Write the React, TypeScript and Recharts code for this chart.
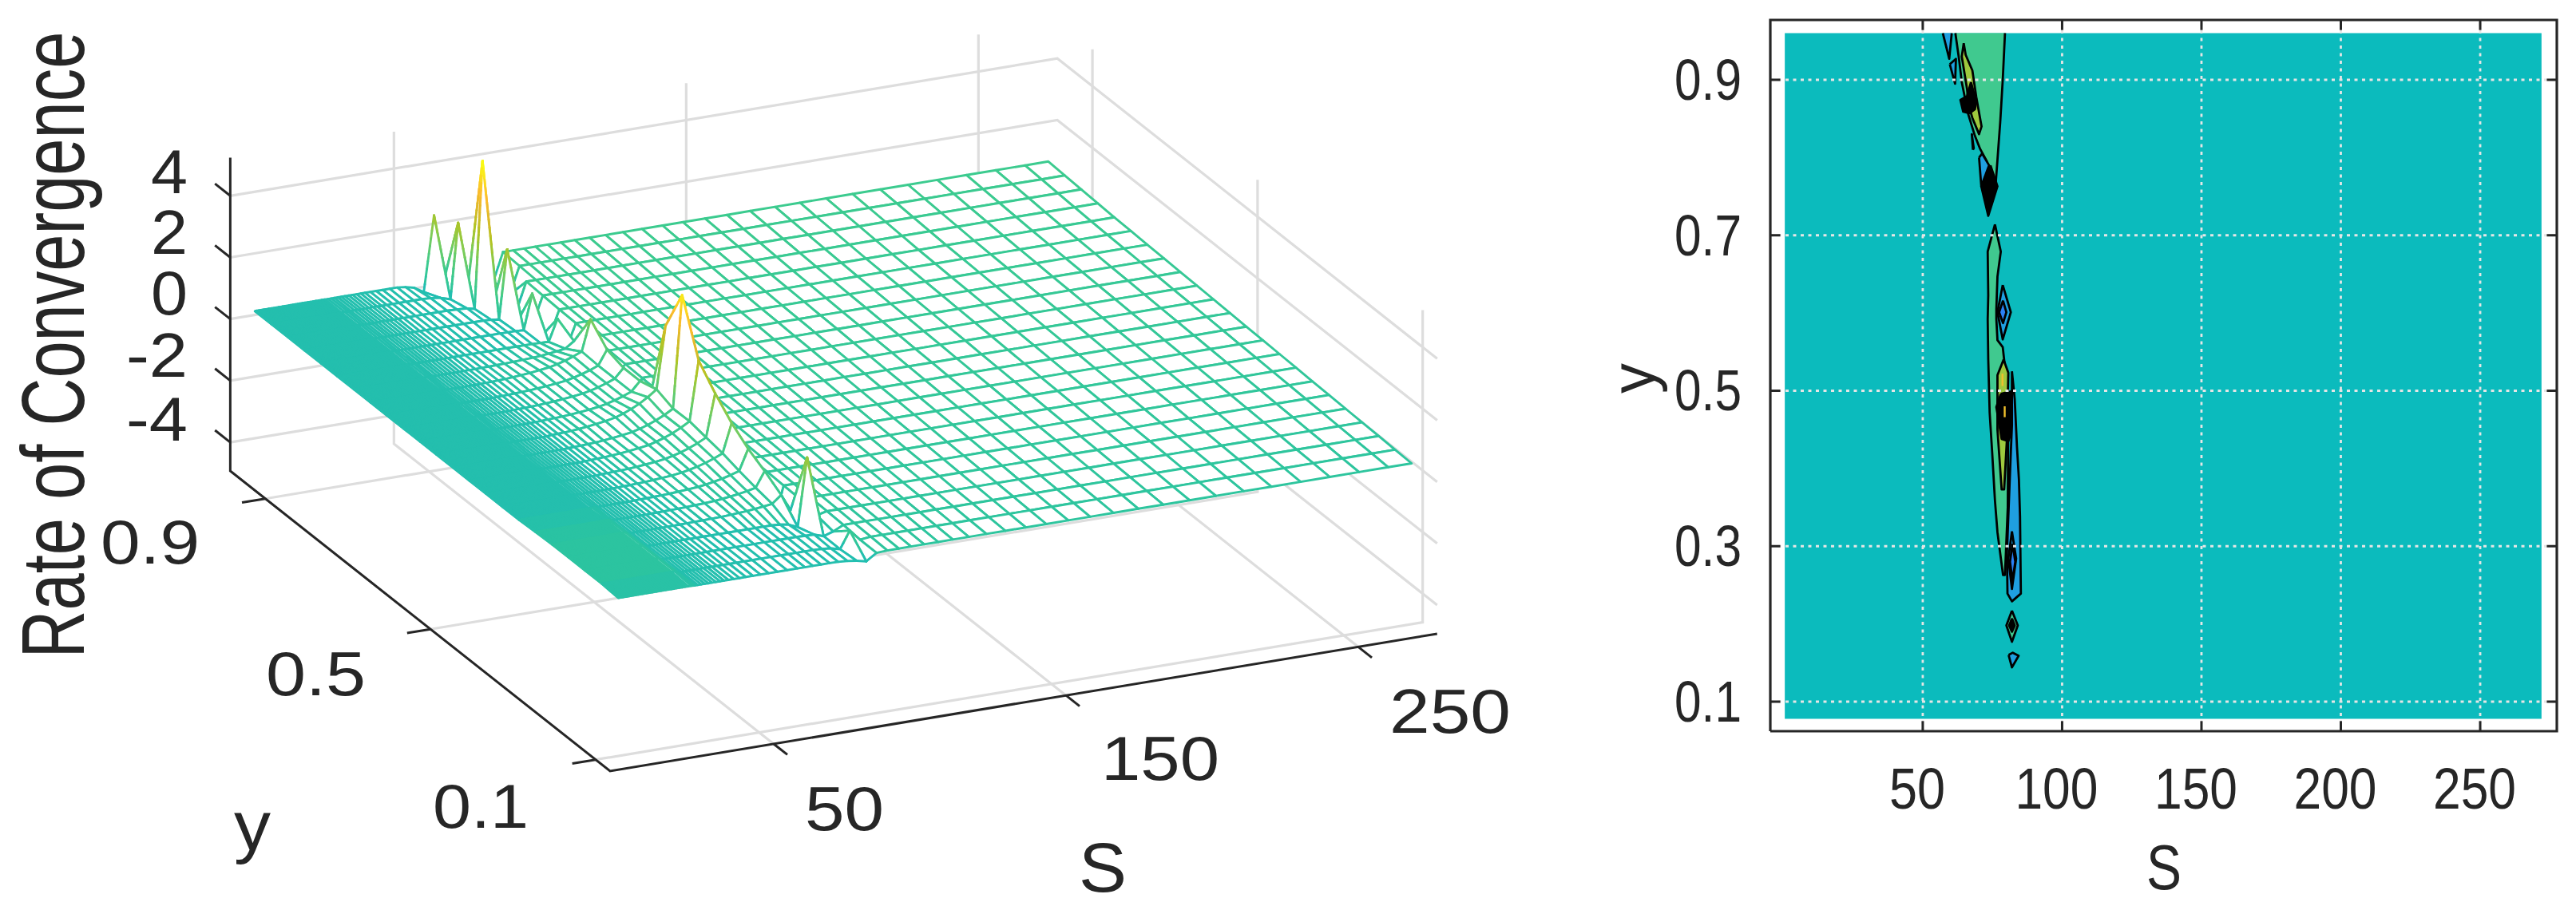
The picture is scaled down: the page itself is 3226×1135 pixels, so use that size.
import { ScatterChart, Scatter, XAxis, YAxis } from "recharts";

const INK = "#262626";
const GREY = "#dddddd";
const FONT = "'Liberation Sans', Arial, sans-serif";

// ---- mesh grid (finer towards S = 0) ----
const sGrid = [
  0.5, 0.7, 0.9, 1.2, 1.5, 1.8, 2.2, 2.6, 3, 3.4, 3.8, 4.3, 4.8, 5.3, 5.8, 6.3, 6.9, 7.5, 8.1, 8.7, 9.3, 10, 10.7, 11.4,
  12.1, 12.8, 13.6, 14.4, 15.2, 16, 16.8, 17.7, 18.6, 19.5, 20.4, 21.4, 22.4, 23.4, 24.4, 25.5, 26.6, 27.7, 28.9, 30.1,
  31.3, 32.6, 33.9, 35.3, 36.7, 38.2, 40, 42, 44.2, 46.6, 49.2, 52, 55, 58.3, 61.8, 64.4,
  67.1, 69.9, 72.8, 75.8, 78.9, 82.1, 85.4, 88.9, 92.6, 96.5, 100.7, 105.2, 110, 115, 120.5, 126.5, 133, 140, 147,
  154.5, 162, 170, 178.5, 187, 196, 205, 214.5, 224, 234, 244, 254, 264, 272,
];
const yGrid = [0.08, 0.12, 0.16, 0.2, 0.24, 0.28, 0.32, 0.36, 0.4, 0.44, 0.48, 0.52, 0.56, 0.6, 0.64, 0.68, 0.72, 0.76, 0.8, 0.84, 0.88, 0.92, 0.96];

// per row, front to back
const ridgeS = [85.4, 85.4, 82.1, 82.1, 78.9, 78.9, 78.9, 78.9, 78.9, 78.9, 78.9, 78.9, 75.8, 75.8, 75.8, 75.8, 75.8, 75.8, 72.8, 69.9, 67.1, 64.4, 61.8];
const ridgeZ = [0.28, 0.85, 0.3, 2.43, 0.84, 1.19, 1.49, 1.9, 2.44, 3.08, 4.78, 3.37, 1.2, 1.2, 1.37, 1.93, 0.8, 1.1, 1.54, 2.6, 5.09, 2.7, 2.56];
const beforeRidgeZ = [0.35, 0.3, 0.4, 0.22, 0.6, 0.7, 0.82, 0.97, 1.06, 1.16, 1.15, 1.35, 0.9, 0.9, 0.9, 0.93, 0.6, 0.4, 0.4, 0.37, 0.33, 0.26, 0.13];
const afterRidgeZ = [0.5, 0.5, 0.4, 0.5, 0.3, -0.5, 0, 0, 0, 0, 0, 0.3, 0.5, -1, 0.5, 0.6, 0.1, 0.1, 0.1, 0.1, 0.1, 0.1, 0.1];
const flatFromS = [92.6, 92.6, 88.9, 88.9, 85.4, 85.4, 85.4, 85.4, 85.4, 85.4, 85.4, 85.4, 82.1, 82.1, 82.1, 82.1, 82.1, 82.1, 82.1, 82.1, 82.1, 85.4, 85.4];
const rightZ = [0.52, 0.54, 0.56, 0.58, 0.6, 0.62, 0.64, 0.66, 0.68, 0.7, 0.72, 0.74, 0.76, 0.78, 0.8, 0.82, 0.84, 0.86, 0.88, 0.91, 0.94, 0.97, 1];
const leftZ = [0.43, 0.47, 0.47, 0.47, 0.47, 0.45, 0.42, 0.42, 0.42, 0.42, 0.42, 0.42, 0.42, 0.42, 0.42, 0.42, 0.42, 0.42, 0.42, 0.42, 0.42, 0.42, 0.42];
const leftPlainZ = 0.42;
const shelfEndS = 26;
const riseWeights = [1, 0.78, 0.6, 0.46, 0.35, 0.26, 0.19, 0.14, 0.1, 0.07, 0.05, 0.035, 0.025, 0.015];
const dipWeights = [1, 0.35, 0.1];

const sTicks3d = [50, 150, 250];
const yTicks3d = [0.1, 0.5, 0.9];
const zTicks3d = [-4, -2, 0, 2, 4];

const sTicks = [50, 100, 150, 200, 250];
const yTicks = [0.1, 0.3, 0.5, 0.7, 0.9];

// ---- filled contour regions, S / y pairs ----
const TEAL = "#0bbbbd";
const GREEN = "#40c98f";
const OLIVE = "#9ec93e";
const BLUE = "#1f9fe0";
const DEEP = "#2b80f5";
const BLACK = "#000000";
const FIELD_TOP = 0.96;

const contourRegions: [string, number[][]][] = [
  [GREEN, [[61.7, 0.96], [79.5, 0.96], [78.7, 0.9], [77.8, 0.846], [76.8, 0.797], [76.1, 0.763], [74.4, 0.774], [73, 0.795], [70.6, 0.811], [68.7, 0.828], [66.3, 0.856], [64, 0.897], [63, 0.927]]],
  [BLUE, [[57.2, 0.96], [60.4, 0.96], [59.5, 0.927]]],
  [BLUE, [[59.7, 0.92], [61.9, 0.927], [61.6, 0.895]]],
  [OLIVE, [[64.7, 0.947], [65.4, 0.932], [67.8, 0.912], [69.2, 0.878], [71.1, 0.84], [70.2, 0.83], [67.8, 0.851], [66.4, 0.868], [65.9, 0.888], [64, 0.93]]],
  [BLACK, [[67.3, 0.897], [69.2, 0.872], [68.7, 0.862], [66.8, 0.857], [64.5, 0.859], [63.5, 0.874], [65.9, 0.879]]],
  [BLUE, [[68.0, 0.81], [68.3, 0.812], [67.6, 0.83]]],
  [BLUE, [[70.2, 0.8], [71.3, 0.805], [73.8, 0.79], [71.0, 0.763]]],
  [BLACK, [[74.3, 0.79], [76.8, 0.763], [73.5, 0.725], [71.0, 0.763]]],
  [GREEN, [[75.9, 0.714], [78, 0.679], [76.8, 0.647], [76.4, 0.605], [76.4, 0.592], [76.8, 0.565], [78.7, 0.556], [79.5, 0.53], [80.7, 0.47], [80.5, 0.35], [79.5, 0.263], [78.8, 0.263], [76.8, 0.318], [75.9, 0.359], [74.9, 0.421], [74, 0.472], [73.5, 0.54], [73.3, 0.592], [73.5, 0.623], [73.3, 0.679]]],
  [OLIVE, [[79, 0.54], [80.7, 0.523], [80.2, 0.438], [79.2, 0.373], [78.3, 0.373], [76.8, 0.45], [76.8, 0.52]]],
  [BLACK, [[78, 0.496], [82.6, 0.5], [82.6, 0.455], [80.7, 0.435], [78.3, 0.438], [76.4, 0.479]]],
  [BLUE, [[82, 0.525], [83, 0.489], [83.8, 0.428], [84.5, 0.386], [84.9, 0.338], [85.2, 0.239], [82, 0.229], [80.4, 0.239], [80.2, 0.291], [80.7, 0.338], [81.6, 0.421], [82, 0.455]]],
  [BLUE, [[82, 0.319], [83.5, 0.284], [82, 0.245], [80.7, 0.284]]],
  [DEEP, [[82.2, 0.303], [83.2, 0.28], [82.2, 0.256], [81.3, 0.28]]],
  [BLUE, [[78.7, 0.636], [81.6, 0.601], [78.7, 0.566], [76.8, 0.601]]],
  [DEEP, [[78.8, 0.616], [80, 0.601], [78.8, 0.587], [77.4, 0.601]]],
  [GREEN, [[82, 0.217], [84.1, 0.198], [82, 0.177], [80, 0.198]]],
  [BLACK, [[82, 0.207], [83, 0.198], [82, 0.19], [81, 0.198]]],
  [BLUE, [[80.8, 0.16], [82.3, 0.163], [84.4, 0.159], [82, 0.144]]],
];

// orthographic projection of the 3d axes box onto the page
const S_MIN = -6;
const S_MAX = 277;
const Y_MIN = 0.065;
const Y_MAX = 0.985;
const Z_MIN = -4.93;
const Z_MAX = 5.2;

function boxPoint(s: number, y: number, z: number) {
  return {
    x: 764 + 3.66 * (s + 6) - 517 * (y - 0.065),
    y: 966 - 0.608 * (s + 6) - 408.7 * (y - 0.065) - 38.6 * (z - Z_MIN),
  };
}

function surfacePoint(s: number, y: number, z: number) {
  return { ...boxPoint(s, y, z), x: boxPoint(s, y, z).x - 5.9 };
}

function surfaceZ(col: number, row: number) {
  const s = sGrid[col];
  const ridgeCol = sGrid.indexOf(ridgeS[row]);
  if (col === ridgeCol) return ridgeZ[row];
  if (col > ridgeCol) return s < flatFromS[row] ? afterRidgeZ[row] : rightZ[row];
  const base = s < shelfEndS ? leftZ[row] : leftPlainZ;
  const weights = beforeRidgeZ[row] < leftPlainZ ? dipWeights : riseWeights;
  const k = ridgeCol - col - 1;
  return k < weights.length ? base + (beforeRidgeZ[row] - base) * weights[k] : base;
}

const colourStops: [number, number[]][] = [
  [-5, [53, 42, 135]],
  [-2, [30, 159, 224]],
  [-0.5, [16, 186, 196]],
  [0.42, [36, 191, 174]],
  [0.47, [44, 196, 160]],
  [1, [60, 203, 143]],
  [2, [130, 204, 84]],
  [2.7, [176, 196, 36]],
  [3.4, [222, 186, 42]],
  [4, [252, 188, 44]],
  [5, [249, 251, 20]],
];

function meshColour(z: number) {
  for (let i = 1; i < colourStops.length; i++) {
    if (z <= colourStops[i][0]) {
      const [z0, c0] = colourStops[i - 1];
      const [z1, c1] = colourStops[i];
      const t = Math.max(0, (z - z0) / (z1 - z0));
      return `rgb(${c0.map((c, n) => Math.round(c + (c1[n] - c) * t)).join(",")})`;
    }
  }
  return "rgb(249,251,20)";
}

// far quads first so that the white faces hide what lies behind them
const meshQuads: any[] = [];
for (let row = yGrid.length - 2; row >= 0; row--) {
  for (let col = sGrid.length - 2; col >= 0; col--) {
    const corners = [
      [col, row],
      [col + 1, row],
      [col + 1, row + 1],
      [col, row + 1],
    ].map(([c, r]) => {
      const z = surfaceZ(c, r);
      return { ...surfacePoint(sGrid[c], yGrid[r], z), z };
    });
    meshQuads.push({ x: corners[0].x, y: corners[0].y, corners });
  }
}

const MESH_WIDTH = 2.9;

function MeshQuad(props: any) {
  const { cx, cy, payload } = props;
  const ox = cx - payload.x;
  const oy = cy - payload.y;
  const pts = payload.corners.map((c: any) => ({ x: c.x + ox, y: c.y + oy, z: c.z }));
  const d = "M" + pts.map((p: any) => `${p.x.toFixed(1)} ${p.y.toFixed(1)}`).join("L") + "Z";
  const zs = pts.map((p: any) => p.z);
  const low = Math.min(...zs);
  const high = Math.max(...zs);
  if (high - low < 0.25) {
    return <path d={d} fill="#fff" stroke={meshColour((low + high) / 2)} strokeWidth={MESH_WIDTH} strokeLinejoin="round" />;
  }
  const edges: any[] = [];
  pts.forEach((a: any, i: number) => {
    const b = pts[(i + 1) % 4];
    const steps = Math.max(1, Math.ceil(Math.abs(a.z - b.z) / 0.25));
    for (let n = 0; n < steps; n++) {
      const t0 = n / steps;
      const t1 = (n + 1) / steps;
      edges.push(
        <line
          key={`${i}-${n}`}
          x1={a.x + (b.x - a.x) * t0}
          y1={a.y + (b.y - a.y) * t0}
          x2={a.x + (b.x - a.x) * t1}
          y2={a.y + (b.y - a.y) * t1}
          stroke={meshColour(a.z + (b.z - a.z) * ((t0 + t1) / 2))}
          strokeWidth={MESH_WIDTH}
          strokeLinecap="round"
        />
      );
    }
  });
  return (
    <g>
      <path d={d} fill="#fff" stroke="none" />
      {edges}
    </g>
  );
}

const noDot = () => <g />;

function outline(key: string, points: { x: number; y: number }[], style: any) {
  return <Scatter key={key} data={points} shape={noDot} line={style} isAnimationActive={false} legendType="none" />;
}

function label3d(text: string, x: number, y: number, size: number, length: number) {
  return (
    <text key={text + x} x={x} y={y} fontSize={size} fontFamily={FONT} fill={INK} textLength={length} lengthAdjust="spacingAndGlyphs">
      {text}
    </text>
  );
}

function SurfacePanel() {
  const wall = { stroke: GREY, strokeWidth: 3.2, fill: "none" };
  const axis = { stroke: INK, strokeWidth: 3, fill: "none" };
  const walls: any[] = [];
  zTicks3d.forEach((z) => {
    walls.push(outline(`z${z}`, [boxPoint(S_MIN, Y_MAX, z), boxPoint(S_MAX, Y_MAX, z), boxPoint(S_MAX, Y_MIN, z)], wall));
  });
  sTicks3d.forEach((s) => {
    walls.push(outline(`sv${s}`, [boxPoint(s, Y_MAX, Z_MAX), boxPoint(s, Y_MAX, Z_MIN), boxPoint(s, Y_MIN, Z_MIN)], wall));
  });
  yTicks3d.forEach((y) => {
    walls.push(outline(`yv${y}`, [boxPoint(S_MAX, y, Z_MAX), boxPoint(S_MAX, y, Z_MIN), boxPoint(S_MIN, y, Z_MIN)], wall));
  });
  const axes = [
    outline("zaxis", [boxPoint(S_MIN, Y_MAX, Z_MAX + 0.04), boxPoint(S_MIN, Y_MAX, Z_MIN), boxPoint(S_MIN, Y_MIN, Z_MIN), boxPoint(S_MAX, Y_MIN, Z_MIN)], axis),
    ...zTicks3d.map((z) => outline(`tz${z}`, [boxPoint(S_MIN, Y_MAX, z), boxPoint(S_MIN, Y_MAX + 0.037, z)], axis)),
    ...yTicks3d.map((y) => outline(`ty${y}`, [boxPoint(S_MIN, y, Z_MIN), boxPoint(S_MIN - 8, y, Z_MIN)], axis)),
    ...sTicks3d.map((s) => outline(`ts${s}`, [boxPoint(s, Y_MIN, Z_MIN), boxPoint(s, Y_MIN - 0.033, Z_MIN)], axis)),
  ];
  return (
    <ScatterChart width={2000} height={1135} margin={{ top: 0, right: 0, bottom: 0, left: 0 }} style={{ position: "absolute", left: 0, top: 0 }}>
      <XAxis type="number" dataKey="x" domain={[0, 2000]} hide />
      <YAxis type="number" dataKey="y" domain={[0, 1135]} reversed hide />
      {walls}
      {axes}
      <Scatter data={meshQuads} shape={MeshQuad} isAnimationActive={false} legendType="none" />
      {label3d("4", 189, 242, 77, 46)}
      {label3d("2", 189, 318, 77, 46)}
      {label3d("0", 189, 394, 77, 46)}
      {label3d("-2", 158, 472, 77, 77)}
      {label3d("-4", 158, 552, 77, 77)}
      {label3d("0.9", 126, 706, 77, 124)}
      {label3d("0.5", 333, 871, 77, 125)}
      {label3d("0.1", 542, 1037, 77, 120)}
      {label3d("50", 1008, 1040, 77, 99)}
      {label3d("150", 1379, 977, 77, 148)}
      {label3d("250", 1740, 918, 77, 152)}
      {label3d("y", 293, 1065, 88, 46)}
      {label3d("S", 1351, 1117, 88, 60)}
      <text
        x={105}
        y={432}
        transform="rotate(-90 105 432)"
        textAnchor="middle"
        fontSize={112}
        fontFamily={FONT}
        fill={INK}
        textLength={785}
        lengthAdjust="spacingAndGlyphs"
      >
        Rate of Convergence
      </text>
    </ScatterChart>
  );
}

const S_LO = -4.7;
const S_HI = 277.5;
const Y_LO = 0.062;
const Y_HI = 0.977;

function SliceTick(props: any) {
  const { x, payload } = props;
  const wide = String(payload.value).length === 3;
  return (
    <text x={x - 7} y={1013} textAnchor="middle" fontSize={72} fontFamily={FONT} fill={INK} textLength={wide ? 104 : 70} lengthAdjust="spacingAndGlyphs">
      {payload.value}
    </text>
  );
}

function LevelTick(props: any) {
  const { y, payload } = props;
  return (
    <text x={181} y={y + 25} textAnchor="end" fontSize={72} fontFamily={FONT} fill={INK} textLength={84} lengthAdjust="spacingAndGlyphs">
      {payload.value.toFixed(1)}
    </text>
  );
}

function ContourPanel() {
  const toPoints = (pts: number[][]) => pts.map(([x, y]) => ({ x, y }));
  const ring = (pts: number[][]) => toPoints([...pts, pts[0]]);
  const dotted = { stroke: "#e6e6e6", strokeWidth: 2.8, strokeDasharray: "4 5.5", fill: "none" };
  const tick = { stroke: INK, strokeWidth: 3, fill: "none" };
  const tickS = 3.6;
  const tickY = 0.013;
  const edge = { fill: "none", stroke: BLACK, strokeWidth: 2.8, strokeLinejoin: "round" };
  return (
    <ScatterChart width={1226} height={1135} margin={{ top: 25, right: 24, bottom: 119, left: 117 }} style={{ position: "absolute", left: 2000, top: 0 }}>
      <XAxis type="number" dataKey="x" domain={[S_LO, S_HI]} ticks={sTicks} height={100} axisLine={false} tickLine={false} tick={SliceTick} interval={0} />
      <YAxis type="number" dataKey="y" domain={[Y_LO, Y_HI]} ticks={yTicks} width={100} axisLine={false} tickLine={false} tick={LevelTick} interval={0} />
      {outline("field", ring([[0.5, 0.078], [272, 0.078], [272, 0.96], [0.5, 0.96]]), { fill: TEAL, stroke: "none" })}
      {contourRegions.map(([colour, pts], i) =>
        pts[0][1] === FIELD_TOP && pts[1][1] === FIELD_TOP
          ? [
              outline(`f${i}`, ring(pts), { fill: colour, stroke: "none" }),
              // regions cut by the top of the field stay open along that edge
              outline(`e${i}`, toPoints([...pts.slice(1), pts[0]]), edge),
            ]
          : outline(`c${i}`, ring(pts), { ...edge, fill: colour })
      )}
      {outline("d1", [{ x: 78.6, y: 0.522 }, { x: 78.6, y: 0.506 }], { stroke: "#f0c02c", strokeWidth: 2.4, fill: "none" })}
      {outline("d2", [{ x: 79.4, y: 0.48 }, { x: 79.4, y: 0.466 }], { stroke: "#f0c02c", strokeWidth: 2.4, fill: "none" })}
      {sTicks.map((s) => outline(`gs${s}`, [{ x: s, y: Y_LO }, { x: s, y: Y_HI }], dotted))}
      {yTicks.map((y) => outline(`gy${y}`, [{ x: S_LO, y }, { x: S_HI, y }], dotted))}
      {sTicks.map((s) => outline(`bs${s}`, [{ x: s, y: Y_LO }, { x: s, y: Y_LO + tickY }], tick))}
      {sTicks.map((s) => outline(`ts${s}`, [{ x: s, y: Y_HI }, { x: s, y: Y_HI - tickY }], tick))}
      {yTicks.map((y) => outline(`ly${y}`, [{ x: S_LO, y }, { x: S_LO + tickS, y }], tick))}
      {yTicks.map((y) => outline(`ry${y}`, [{ x: S_HI, y }, { x: S_HI - tickS, y }], tick))}
      {outline("frame", ring([[S_LO, Y_LO], [S_HI, Y_LO], [S_HI, Y_HI], [S_LO, Y_HI]]), { stroke: INK, strokeWidth: 3.2, fill: "none" })}
      <text x={710} y={1114} textAnchor="middle" fontSize={80} fontFamily={FONT} fill={INK} textLength={44} lengthAdjust="spacingAndGlyphs">
        S
      </text>
      <text x={72} y={474} transform="rotate(-90 72 474)" textAnchor="middle" fontSize={78} fontFamily={FONT} fill={INK} textLength={38} lengthAdjust="spacingAndGlyphs">
        y
      </text>
    </ScatterChart>
  );
}

export default function App() {
  return (
    <div style={{ position: "absolute", left: 0, top: 0, width: 3226, height: 1135, background: "#fff", overflow: "hidden" }}>
      <SurfacePanel />
      <ContourPanel />
    </div>
  );
}
